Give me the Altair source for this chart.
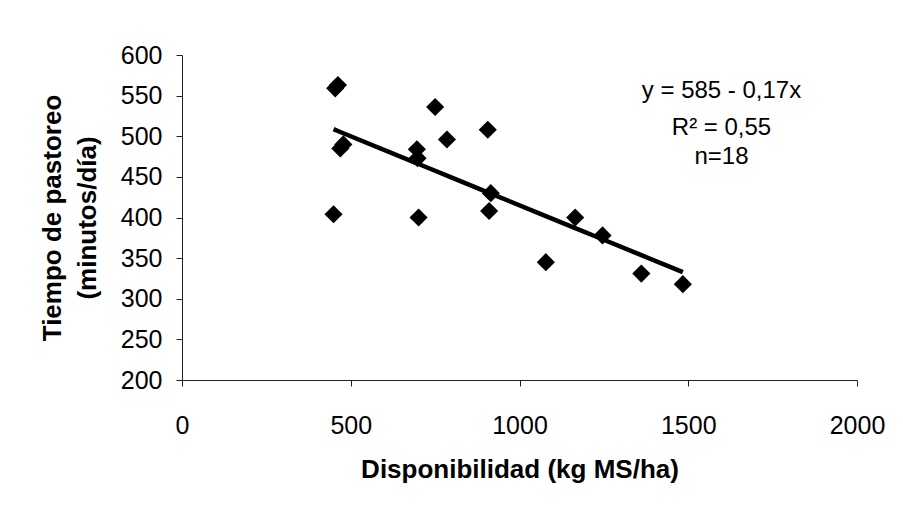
import altair as alt
import pandas as pd

# --- data ---
disponibilidad = [454, 462, 469, 478, 449, 696, 698, 701, 750, 785,
                  906, 915, 910, 1078, 1165, 1246, 1361, 1484]
tiempo = [559, 563, 485, 490, 404, 484, 473, 400, 536, 496,
          508, 430, 408, 345, 400, 378, 331, 318]
intercept = 585
slope = -0.17
x_ticks = [0, 500, 1000, 1500, 2000]
y_ticks = [200, 250, 300, 350, 400, 450, 500, 550, 600]
eq_lines = ["y = 585 - 0,17x", "R² = 0,55", "n=18"]
x_title = "Disponibilidad (kg MS/ha)"
y_title = ["Tiempo de pastoreo", "(minutos/día)"]

df = pd.DataFrame({"disp": disponibilidad, "tiempo": tiempo})

FONT = "Liberation Sans"
W, H = 675, 325

x_enc = alt.X(
    "disp:Q",
    scale=alt.Scale(domain=[0, 2000], nice=False, zero=False),
    axis=alt.Axis(
        values=x_ticks, format="d", grid=False,
        title=x_title,
        tickSize=6, tickColor="#222", domainColor="#222", domainWidth=1,
        labelFont=FONT, labelFontSize=25, labelColor="black",
        labelPadding=47, labelBaseline="alphabetic", labelFlush=False,
        titleFont=FONT, titleFontSize=26, titleFontWeight="bold", titleColor="black",
        titleX=W / 2, titleY=97, titleAlign="center", titleBaseline="alphabetic",
    ),
)
y_enc = alt.Y(
    "tiempo:Q",
    scale=alt.Scale(domain=[200, 600], nice=False, zero=False),
    axis=alt.Axis(
        values=y_ticks, format="d", grid=False,
        title=y_title,
        tickSize=6, tickColor="#222", domainColor="#222", domainWidth=1,
        labelFont=FONT, labelFontSize=25, labelColor="black",
        labelPadding=14, labelBaseline="middle", labelFlush=False,
        titleFont=FONT, titleFontSize=26, titleFontWeight="bold", titleColor="black",
        titleAngle=270, titleX=-122, titleY=H / 2, titleAlign="center",
        titleBaseline="alphabetic", titleLineHeight=35,
    ),
)

base = alt.Chart(df)

points = base.mark_point(
    shape="diamond", filled=True, size=330, color="black", opacity=1
).encode(x=x_enc, y=y_enc)

# fitted line from the equation printed on the chart, over the data's x range
reg = base.transform_calculate(
    fit=f"{intercept} + ({slope}) * datum.disp"
).mark_line(color="black", strokeWidth=4.5).encode(
    x="disp:Q", y="fit:Q", order="disp:Q"
)

text_layers = []
for line, ypix in zip(eq_lines, [43, 80, 109]):
    t = alt.Chart(pd.DataFrame({"t": [line]})).mark_text(
        font=FONT, fontSize=24, color="black", align="center", baseline="alphabetic"
    ).encode(text="t:N", x=alt.value(539.5), y=alt.value(ypix))
    text_layers.append(t)

chart = alt.layer(points, reg, *text_layers).properties(
    width=W, height=H,
    autosize=alt.AutoSizeParams(type="none"),
    padding={"left": 182, "top": 55, "right": 46, "bottom": 129},
    background="white",
).configure_view(stroke=None)

chart.save("out.html", embed_options={"renderer": "svg", "actions": False})
